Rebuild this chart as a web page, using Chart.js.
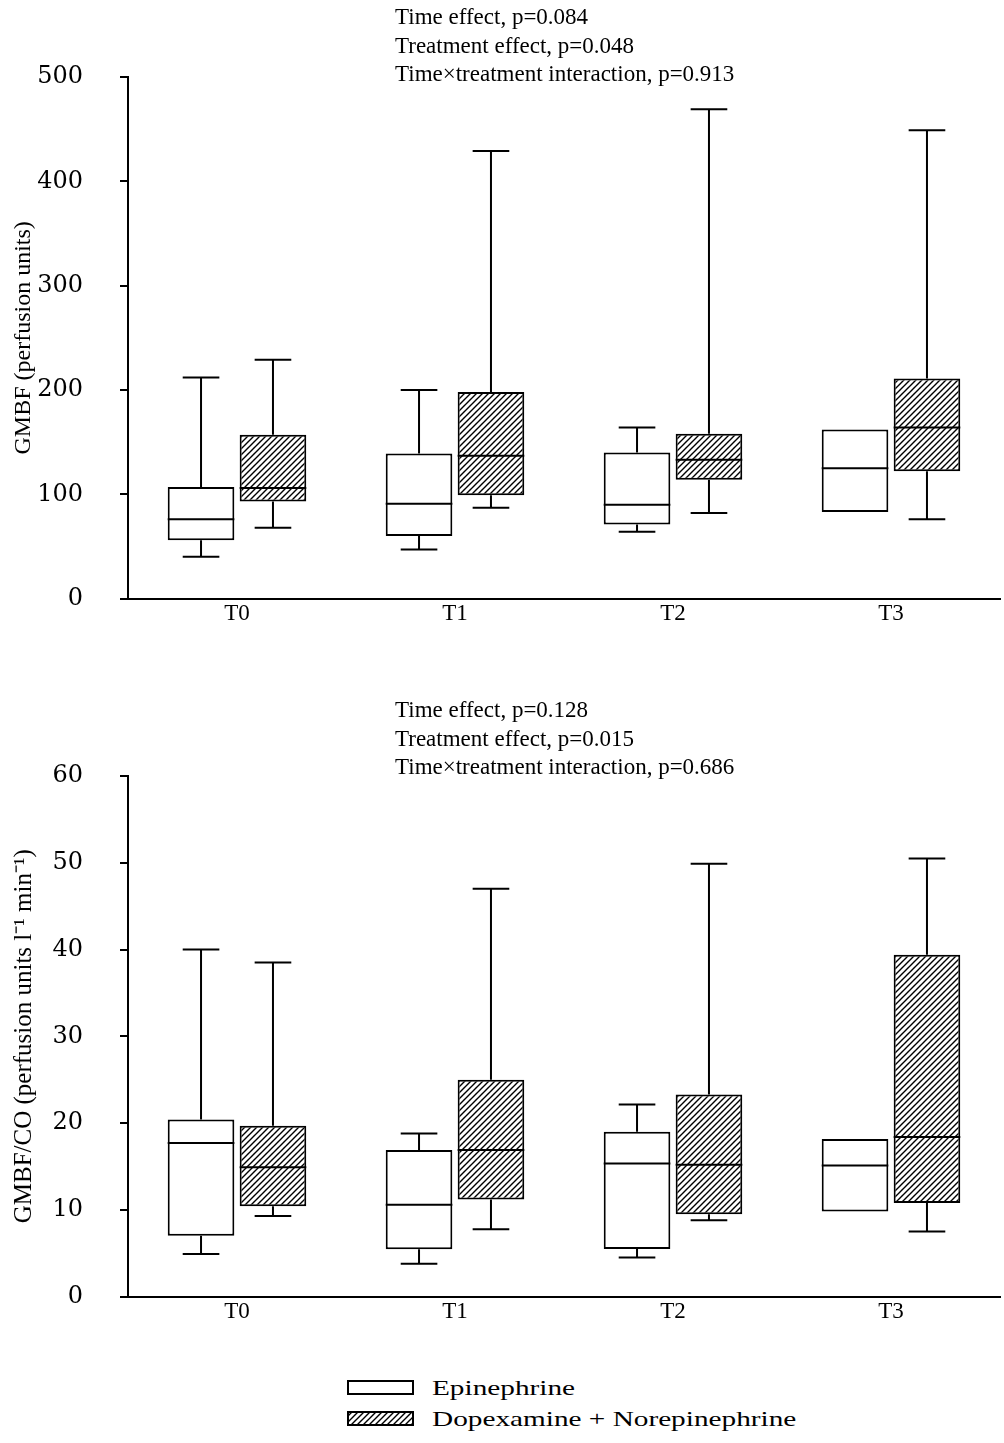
<!DOCTYPE html>
<html>
<head>
<meta charset="utf-8">
<script src="https://cdn.jsdelivr.net/npm/chart.js@4.4.1/dist/chart.umd.min.js"></script>
<style>
  body { margin: 0; background: #fff; width: 1004px; height: 1443px; position: relative; overflow: hidden; }
  #topBox { position: absolute; left: 0; top: 0; width: 1004px; height: 650px; }
  #bottomBox { position: absolute; left: 0; top: 640px; width: 1004px; height: 708px; }
  #legend { position: absolute; left: 347px; top: 1372px; font-family: 'Liberation Serif', serif; font-size: 22px; color: #000; }
  .row { display: flex; align-items: center; height: 31px; white-space: nowrap; }
  .row canvas { width: 67px; height: 15px; margin-right: 18px; }
  .row span { display: inline-block; transform: scaleX(1.33); transform-origin: left center; }
</style>
</head>
<body>
<div id="topBox"><canvas id="gmbfChart"></canvas></div>
<div id="bottomBox"><canvas id="ratioChart"></canvas></div>
<div id="legend"></div>
<script>
// categories and series
const categories = ['T0', 'T1', 'T2', 'T3'];
const seriesNames = ['Epinephrine', 'Dopexamine + Norepinephrine'];

// GMBF (perfusion units) - box plot values
const gmbfEpiLow = [40, 47, 64, null];
const gmbfEpiQ1 = [56, 60, 71, 83];
const gmbfEpiMed = [76, 91, 90, 125];
const gmbfEpiQ3 = [107, 139, 140, 162];
const gmbfEpiHigh = [212, 200, 164, null];
const gmbfDopLow = [68, 87, 82, 76];
const gmbfDopQ1 = [93, 99, 114, 122];
const gmbfDopMed = [106, 137, 133, 164];
const gmbfDopQ3 = [157, 198, 158, 211];
const gmbfDopHigh = [229, 429, 469, 449];
const gmbfTicks = [0, 100, 200, 300, 400, 500];
const gmbfStats = ['Time effect, p=0.084', 'Treatment effect, p=0.048', 'Time\u00d7treatment interaction, p=0.913'];

// GMBF/CO (perfusion units l-1 min-1)
const ratioEpiLow = [4.9, 3.8, 4.5, null];
const ratioEpiQ1 = [7.0, 5.45, 5.5, 9.8];
const ratioEpiMed = [17.7, 10.6, 15.35, 15.1];
const ratioEpiQ3 = [20.4, 16.9, 19.0, 18.15];
const ratioEpiHigh = [40.0, 18.8, 22.15, null];
const ratioDopLow = [9.3, 7.75, 8.8, 7.5];
const ratioDopQ1 = [10.4, 11.2, 9.5, 10.8];
const ratioDopMed = [14.9, 16.9, 15.2, 18.4];
const ratioDopQ3 = [19.7, 25.0, 23.3, 39.4];
const ratioDopHigh = [38.5, 47.0, 49.9, 50.5];
const ratioTicks = [0, 10, 20, 30, 40, 50, 60];
const ratioStats = ['Time effect, p=0.128', 'Treatment effect, p=0.015', 'Time\u00d7treatment interaction, p=0.686'];

// diagonal hatch used for the second group
function makeHatch(ctx) {
    const c = document.createElement('canvas');
    c.width = 6; c.height = 6;
    const g = c.getContext('2d');
    g.fillStyle = '#fff';
    g.fillRect(0, 0, 6, 6);
    g.strokeStyle = '#000';
    g.lineWidth = 1.4;
    g.beginPath();
    g.moveTo(-1, 7); g.lineTo(7, -1);
    g.moveTo(-1, 1); g.lineTo(1, -1);
    g.moveTo(5, 7); g.lineTo(7, 5);
    g.stroke();
    return ctx.createPattern(c, 'repeat');
}

// medians and whiskers, positioned with the chart's own scales
const boxWhiskers = {
    id: 'boxWhiskers',
    afterDatasetsDraw(chart) {
        const ctx = chart.ctx;
        const y = chart.scales.y;
        ctx.save();
        ctx.strokeStyle = '#000';
        ctx.lineWidth = 2;
        chart.data.datasets.forEach((ds, i) => {
            chart.getDatasetMeta(i).data.forEach((bar, j) => {
                const half = bar.width / 2;
                const capHalf = bar.width * 0.275;
                const [q1, q3] = ds.data[j];
                ctx.beginPath();
                const ym = y.getPixelForValue(ds.median[j]);
                ctx.moveTo(bar.x - half, ym); ctx.lineTo(bar.x + half, ym);
                if (ds.high[j] != null) {
                    const yh = y.getPixelForValue(ds.high[j]);
                    ctx.moveTo(bar.x, y.getPixelForValue(q3)); ctx.lineTo(bar.x, yh);
                    ctx.moveTo(bar.x - capHalf, yh); ctx.lineTo(bar.x + capHalf, yh);
                }
                if (ds.low[j] != null) {
                    const yl = y.getPixelForValue(ds.low[j]);
                    ctx.moveTo(bar.x, y.getPixelForValue(q1)); ctx.lineTo(bar.x, yl);
                    ctx.moveTo(bar.x - capHalf, yl); ctx.lineTo(bar.x + capHalf, yl);
                }
                ctx.stroke();
            });
        });
        ctx.restore();
    }
};

// statistics text above each panel
const statsText = {
    id: 'statsText',
    afterDraw(chart, args, opts) {
        const ctx = chart.ctx, a = chart.chartArea;
        ctx.save();
        ctx.font = '23px "Liberation Serif"';
        ctx.fillStyle = '#000';
        ctx.textBaseline = 'middle';
        opts.lines.forEach((t, k) => ctx.fillText(t, a.left + opts.dx, a.top + opts.dy + k * 28.5));
        ctx.restore();
    }
};

function boxData(q1, q3) {
    return q1.map((v, i) => [v, q3[i]]);
}

function makeChart(id, o) {
    const ctx = document.getElementById(id).getContext('2d');
    const hatch = makeHatch(ctx);
    return new Chart(ctx, {
        type: 'bar',
        data: {
            labels: categories,
            datasets: [{
                label: seriesNames[0],
                data: boxData(o.epi[1], o.epi[3]),
                low: o.epi[0], median: o.epi[2], high: o.epi[4],
                backgroundColor: '#fff',
                borderColor: '#000',
                borderWidth: 2,
                borderSkipped: false
            }, {
                label: seriesNames[1],
                data: boxData(o.dop[1], o.dop[3]),
                low: o.dop[0], median: o.dop[2], high: o.dop[4],
                backgroundColor: hatch,
                borderColor: '#000',
                borderWidth: 2,
                borderSkipped: false
            }]
        },
        options: {
            responsive: true,
            maintainAspectRatio: false,
            animation: false,
            categoryPercentage: 0.66,
            barPercentage: 0.926,
            layout: { padding: { top: o.padTop, right: 4, left: 0, bottom: 0 } },
            plugins: {
                legend: { display: false },
                tooltip: { enabled: false },
                statsText: { lines: o.stats, dx: 267, dy: o.statsDy }
            },
            scales: {
                x: {
                    grid: { display: true, drawOnChartArea: false, drawTicks: false },
                    border: { color: '#000', width: 2 },
                    ticks: { color: '#000', padding: 2, font: { family: 'Liberation Serif', size: 23 } },
                    afterFit(s) { s.height = o.xHeight; }
                },
                y: {
                    min: o.ticks[0],
                    max: o.ticks[o.ticks.length - 1],
                    afterBuildTicks(s) { s.ticks = o.ticks.map(v => ({ value: v })); },
                    grid: { display: true, drawOnChartArea: false, drawTicks: true, tickLength: 8, color: '#000', lineWidth: 2 },
                    border: { color: '#000', width: 2 },
                    ticks: { color: '#000', padding: 37, font: { family: 'DejaVu Serif', size: 24 } },
                    title: {
                        display: true, text: o.title, color: '#000',
                        padding: { top: 9, bottom: 0 },
                        font: { family: 'Liberation Serif', size: o.titleSize }
                    },
                    afterFit(s) { s.width = 128; }
                }
            }
        },
        plugins: [boxWhiskers, statsText]
    });
}

const topChart = makeChart('gmbfChart', {
    epi: [gmbfEpiLow, gmbfEpiQ1, gmbfEpiMed, gmbfEpiQ3, gmbfEpiHigh],
    dop: [gmbfDopLow, gmbfDopQ1, gmbfDopMed, gmbfDopQ3, gmbfDopHigh],
    ticks: gmbfTicks, stats: gmbfStats,
    title: 'GMBF (perfusion units)', titleSize: 24,
    padTop: 77, xHeight: 32, statsDy: -59
});

const bottomChart = makeChart('ratioChart', {
    epi: [ratioEpiLow, ratioEpiQ1, ratioEpiMed, ratioEpiQ3, ratioEpiHigh],
    dop: [ratioDopLow, ratioDopQ1, ratioDopMed, ratioDopQ3, ratioDopHigh],
    ticks: ratioTicks, stats: ratioStats,
    title: 'GMBF/CO (perfusion units l\u207b\u00b9 min\u207b\u00b9)', titleSize: 25,
    padTop: 136, xHeight: 35, statsDy: -65
});

// legend built from the datasets
const legend = document.getElementById('legend');
bottomChart.data.datasets.forEach(ds => {
    const row = document.createElement('div');
    row.className = 'row';
    const sw = document.createElement('canvas');
    sw.width = 67; sw.height = 15;
    const g = sw.getContext('2d');
    g.fillStyle = ds.backgroundColor;
    g.fillRect(0, 0, 67, 15);
    g.strokeStyle = '#000';
    g.lineWidth = 2;
    g.strokeRect(1, 1, 65, 13);
    const label = document.createElement('span');
    label.textContent = ds.label;
    row.appendChild(sw);
    row.appendChild(label);
    legend.appendChild(row);
});
</script>
</body>
</html>
